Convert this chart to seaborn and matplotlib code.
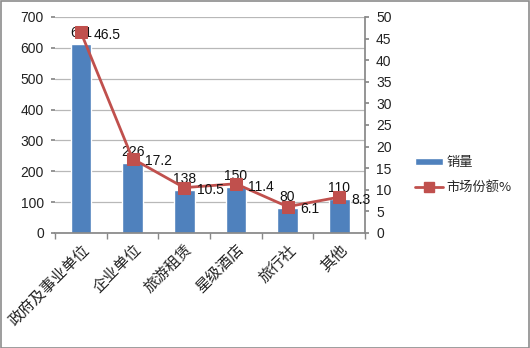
import matplotlib
matplotlib.use("Agg")
import matplotlib.pyplot as plt
import seaborn as sns
import pandas as pd
import numpy as np
from matplotlib.patches import Rectangle
from matplotlib.lines import Line2D
from matplotlib.ticker import MultipleLocator, FixedLocator

categories = ["政府及事业单位", "企业单位", "旅游租赁", "星级酒店", "旅行社", "其他"]
sales = [611, 226, 138, 150, 80, 110]
share = [46.5, 17.2, 10.5, 11.4, 6.1, 8.3]
sales_label = "销量"
share_label = "市场份额%"

sns.set_theme(style="white")
plt.rcParams["font.family"] = ["Noto Sans CJK SC", "DejaVu Sans"]

bar_color = "#4F81BD"
line_color = "#C0504D"
num_font = "Liberation Sans"

df = pd.DataFrame({"cat": categories, "sales": sales, "share": share,
                   "pos": np.arange(len(categories))})

fig = plt.figure(figsize=(5.3, 3.48), dpi=100)
ax = fig.add_axes([55/530, 1-233/348, 310/530, 216/348])
ax2 = ax.twinx()

sns.barplot(data=df, x="pos", y="sales", ax=ax, color=bar_color, width=0.4,
            saturation=1, native_scale=True)
sns.lineplot(data=df, x="pos", y="share", ax=ax2, color=line_color, marker="s",
             markersize=8, linewidth=2, markeredgecolor=line_color)

ax.set_xlim(-0.5, len(categories) - 0.5)
ax.set_ylim(0, 700)
ax2.set_ylim(0, 50)
ax.yaxis.set_major_locator(MultipleLocator(100))
ax2.yaxis.set_major_locator(MultipleLocator(5))

ax.set_xticks(np.arange(len(categories)))
ax.set_xticklabels(categories, rotation=45, ha="right", rotation_mode="anchor",
                   fontsize=11, color="#222222")
ax.tick_params(axis="x", which="major", length=0, pad=6)
ax.xaxis.set_minor_locator(FixedLocator(np.arange(-0.5, len(categories), 1.0)))
ax.tick_params(axis="x", which="minor", length=4, color="#888888", bottom=True)
ax.tick_params(axis="y", labelsize=10, length=3, color="#888888", left=True, pad=5,
               labelcolor="#222222", labelfontfamily=num_font)
ax2.tick_params(axis="y", labelsize=10, length=3, color="#888888", right=True, pad=5,
                labelcolor="#222222", labelfontfamily=num_font)

ax.set_xlabel("")
ax.set_ylabel("")
ax2.set_xlabel("")
ax2.set_ylabel("")
ax.grid(axis="y", color="#B8B8B8", linewidth=0.9)
ax.set_axisbelow(True)

for a in (ax, ax2):
    for s in ("top", "left"):
        a.spines[s].set_visible(False)
ax.spines["right"].set_visible(False)
ax.spines["bottom"].set_color("#888888")
ax2.spines["bottom"].set_visible(False)
ax2.spines["right"].set_color("#888888")

for i, v in enumerate(sales):
    ax.annotate(str(v), (i, v), xytext=(0, 3), textcoords="offset points",
                ha="center", va="bottom", fontsize=10, color="#111111",
                family=num_font)
for i, v in enumerate(share):
    ax2.annotate(f"{v:g}", (i, v), xytext=(9, -2), textcoords="offset points",
                 ha="left", va="center", fontsize=10, color="#111111",
                 family=num_font)

if ax2.get_legend() is not None:
    ax2.get_legend().remove()
handles = [Rectangle((0, 0), 1, 1, facecolor=bar_color),
           Line2D([0], [0], color=line_color, lw=2, marker="s", markersize=7)]
fig.legend(handles, [sales_label, share_label], loc="center left",
           bbox_to_anchor=(403/530, 1-175/348), frameon=False, fontsize=9.5,
           handlelength=2.1, handleheight=0.5, labelspacing=0.9, handletextpad=0.3)

fig.patches.append(Rectangle((0.001, 0.001), 0.997, 0.996, transform=fig.transFigure,
                             fill=False, edgecolor="#8C8C8C", linewidth=1.2))

fig.savefig("out.png", dpi=100)
